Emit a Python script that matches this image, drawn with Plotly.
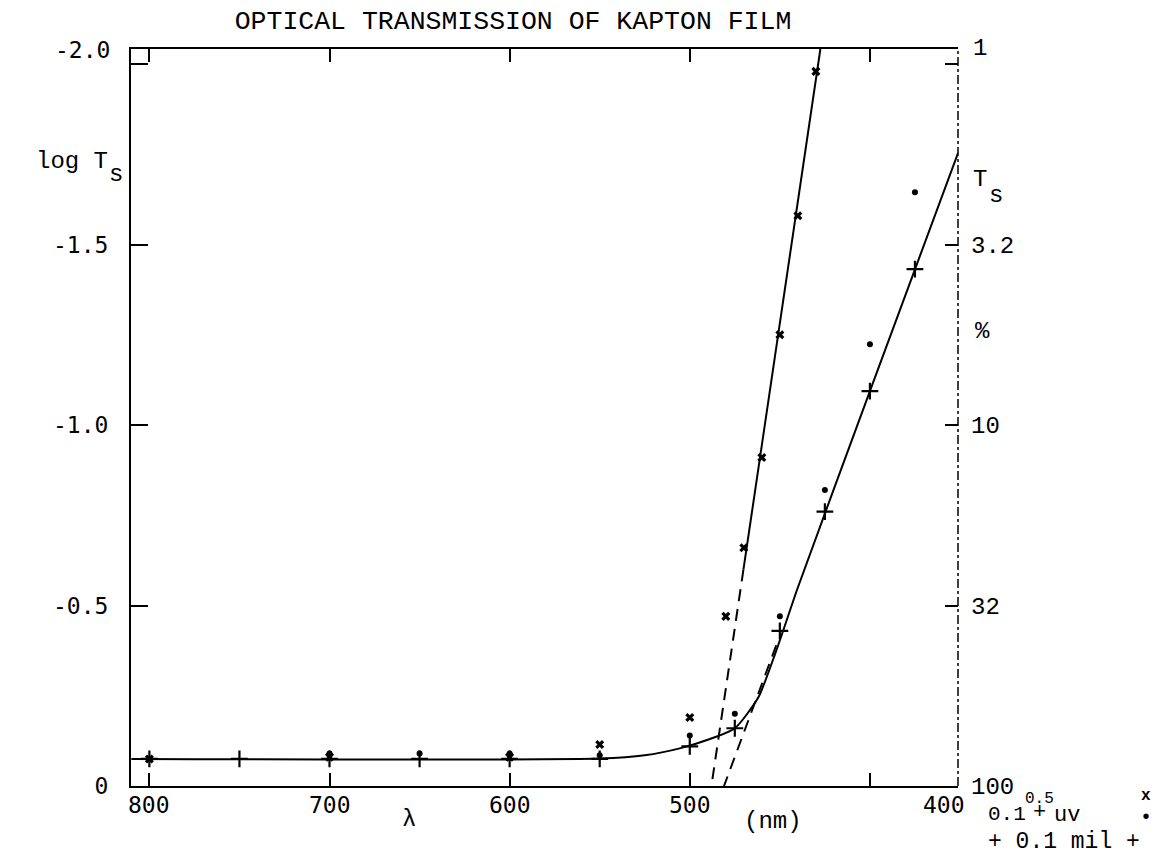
import plotly.graph_objects as go

TITLE = "OPTICAL TRANSMISSION OF KAPTON FILM"
FONT = "Liberation Mono"
SANS = "DejaVu Sans Mono"

# x-ticks (wavelength, nm) and y-ticks (log Ts, with Ts % on right)
x_tick_vals = [800, 700, 600, 500, 400]
x_tick_text = ["800", "700", "600", "500"]
x_label_400_pos = 359          # the "400" label is typed at the right-hand corner
y_tick_vals = [0, -0.5, -1.0, -1.5, -2.0]
y_tick_left = ["0", "-0.5", "-1.0", "-1.5", ""]
y_tick_right = ["100", "32", "10", "3.2", ""]

# series "0.5 uv" (x markers)
wl_x = [800, 700, 600, 550, 500, 480, 470, 460, 450, 440, 430]
log_x = [-0.075, -0.08, -0.08, -0.115, -0.19, -0.47, -0.66, -0.91, -1.25, -1.58, -1.98]

# series "0.1 + uv" (dots)
wl_dot = [700, 650, 600, 550, 500, 475, 450, 425, 400, 375]
log_dot = [-0.09, -0.09, -0.09, -0.085, -0.14, -0.2, -0.47, -0.82, -1.224, -1.645]

# series "0.1 mil" (plus)
wl_plus = [800, 750, 700, 650, 600, 550, 500, 475, 450, 425, 400, 375]
log_plus = [-0.075, -0.075, -0.075, -0.075, -0.075, -0.075, -0.11, -0.16, -0.43, -0.76, -1.094, -1.432]

# hand-drawn curve through the 0.1 mil points
curve_wl = [810, 550, 525, 505, 490, 475, 462, 452, 440, 400, 351]
curve_log = [-0.075, -0.076, -0.085, -0.105, -0.128, -0.16, -0.245, -0.375, -0.55, -1.094, -1.755]

# straight line through the x points (solid part, dashed extrapolation)
xline_wl = [427.5, 470.2]
xline_log = [-2.042, -0.6]
xdash_wl = [470.2, 488]
xdash_log = [-0.6, 0]

# dashed extrapolation of the 0.1 mil straight part
pdash_wl = [452, 481]
pdash_log = [-0.39, 0]

fig = go.Figure()
line_style = dict(color="black", width=2)

fig.add_trace(go.Scatter(x=curve_wl, y=curve_log, mode="lines",
                         line=dict(color="black", width=2, shape="spline", smoothing=0.6),
                         hoverinfo="skip"))
fig.add_trace(go.Scatter(x=xline_wl, y=xline_log, mode="lines", line=line_style, hoverinfo="skip"))
fig.add_trace(go.Scatter(x=xdash_wl, y=xdash_log, mode="lines",
                         line=dict(color="black", width=2, dash="12px,8px"), hoverinfo="skip"))
fig.add_trace(go.Scatter(x=pdash_wl, y=pdash_log, mode="lines",
                         line=dict(color="black", width=2, dash="12px,8px"), hoverinfo="skip"))

fig.add_trace(go.Scatter(x=wl_x, y=log_x, mode="markers", name="0.5 uv",
                         marker=dict(symbol="x", size=8, color="black")))
fig.add_trace(go.Scatter(x=wl_dot, y=log_dot, mode="markers", name="0.1 + uv",
                         marker=dict(symbol="circle", size=6, color="black")))
fig.add_trace(go.Scatter(x=wl_plus, y=log_plus, mode="markers", name="0.1 mil",
                         marker=dict(symbol="cross-thin", size=12, color="black",
                                     line=dict(color="black", width=2.2))))
# dummy trace so the right axis is drawn
fig.add_trace(go.Scatter(x=[800], y=[0], yaxis="y2", mode="markers",
                         marker=dict(opacity=0), hoverinfo="skip"))

leftfont = dict(family=SANS, size=23, color="black")
rightfont = dict(family=FONT, size=24, color="black")

fig.update_layout(
    width=1161, height=854,
    margin=dict(l=123, r=211, t=41, b=76),
    plot_bgcolor="white", paper_bgcolor="white",
    showlegend=False,
    title=dict(text=TITLE, x=505 / 1161, y=1 - 12 / 854, xanchor="center", yanchor="middle",
               font=dict(family=FONT, size=26.5, color="black")),
    xaxis=dict(range=[810.2, 351.1], tickvals=x_tick_vals, showticklabels=False,
               ticks="inside", ticklen=13, tickwidth=2, tickcolor="black",
               showline=True, linewidth=2, linecolor="black", mirror="ticks",
               showgrid=False, zeroline=False),
    yaxis=dict(range=[0, -2.042], tickvals=y_tick_vals, ticktext=y_tick_left,
               ticks="inside", ticklen=17, tickwidth=2, tickcolor="black",
               showline=True, linewidth=2, linecolor="black",
               showgrid=False, zeroline=False, tickfont=leftfont, ticklabelstandoff=16),
    yaxis2=dict(range=[0, -2.042], tickvals=y_tick_vals, ticktext=y_tick_right,
                overlaying="y", side="right",
                ticks="inside", ticklen=13, tickwidth=2, tickcolor="black",
                showline=False, showgrid=False, zeroline=False, tickfont=rightfont,
                ticklabelstandoff=12),
)

fig.add_shape(type="line", xref="paper", yref="paper", x0=1, x1=1, y0=0, y1=1,
              line=dict(color="black", width=1.5, dash="dashdot"))

def px(xpix):
    return (xpix - 123) / 827

ann_font = dict(family=FONT, size=24, color="black")
anns = []
# x tick labels typed just below the axis
for v, t in zip(x_tick_vals, x_tick_text):
    anns.append(dict(text=t, xref="x", x=v, xanchor="center",
                     yref="paper", y=0, yanchor="top", yshift=-4, font=leftfont))
anns.append(dict(text="400", xref="x", x=x_label_400_pos, xanchor="center",
                 yref="paper", y=0, yanchor="top", yshift=-4, font=leftfont))
anns += [
    # offset top tick labels (typed slightly above their ticks)
    dict(text="-2.0", xref="paper", x=0, xanchor="right", xshift=-19,
         yref="y", y=-2.0, yanchor="middle", yshift=14, font=leftfont),
    dict(text="1", xref="paper", x=1, xanchor="left", xshift=13,
         yref="y", y=-2.0, yanchor="middle", yshift=16),
    # axis titles
    dict(text="log T", xref="paper", x=0, xanchor="right", xshift=-21,
         yref="y", y=-1.73, yanchor="middle"),
    dict(text="s", xref="paper", x=0, xanchor="right", xshift=-6,
         yref="y", y=-1.73, yanchor="middle", yshift=-13),
    dict(text="T", xref="paper", x=1, xanchor="left", xshift=13,
         yref="y", y=-1.68, yanchor="middle"),
    dict(text="s", xref="paper", x=1, xanchor="left", xshift=29,
         yref="y", y=-1.68, yanchor="middle", yshift=-16),
    dict(text="%", xref="paper", x=1, xanchor="left", xshift=15,
         yref="y", y=-1.26, yanchor="middle"),
    dict(text="λ", xref="x", x=656, xanchor="center",
         yref="paper", y=0, yanchor="top", yshift=-18),
    dict(text="(nm)", xref="x", x=454, xanchor="center",
         yref="paper", y=0, yanchor="top", yshift=-20),
    # legend block (typed)
    dict(text="0.5", xref="paper", x=px(1015), xanchor="left",
         yref="paper", y=0, yanchor="middle", yshift=-13,
         font=dict(family=FONT, size=16, color="black")),
    dict(text="0.1", xref="paper", x=px(978), xanchor="left",
         yref="paper", y=0, yanchor="middle", yshift=-28,
         font=dict(family=FONT, size=21, color="black")),
    dict(text="+", xref="paper", x=px(1031), xanchor="center",
         yref="paper", y=0, yanchor="middle", yshift=-26,
         font=dict(family=FONT, size=22, color="black")),
    dict(text="uv", xref="paper", x=px(1044), xanchor="left",
         yref="paper", y=0, yanchor="middle", yshift=-29,
         font=dict(family=FONT, size=22, color="black")),
    dict(text="+ 0.1 mil +", xref="paper", x=px(978), xanchor="left",
         yref="paper", y=0, yanchor="middle", yshift=-56,
         font=dict(family=FONT, size=23, color="black")),
    dict(text="<b>x</b>", xref="paper", x=px(1138), xanchor="center",
         yref="paper", y=0, yanchor="middle", yshift=-10,
         font=dict(family=FONT, size=16, color="black")),
    dict(text="•", xref="paper", x=px(1138), xanchor="center",
         yref="paper", y=0, yanchor="middle", yshift=-31,
         font=dict(family=FONT, size=20, color="black")),
]
for a in anns:
    a.setdefault("font", ann_font)
    a["showarrow"] = False
    fig.add_annotation(**a)

fig.write_html("out.html")
